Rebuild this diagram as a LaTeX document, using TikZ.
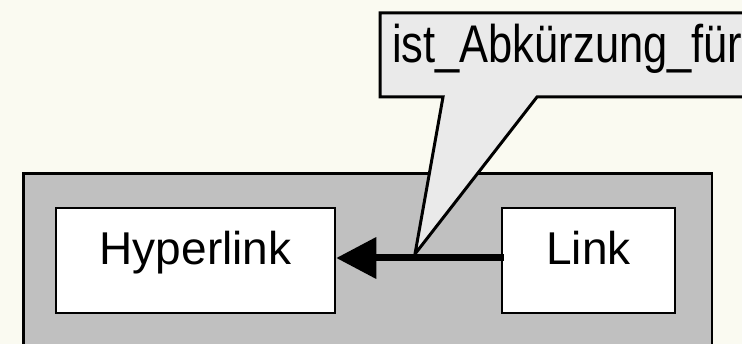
\documentclass[tikz,border=0pt]{standalone}
\usepackage{fontspec}
\setmainfont{Liberation Sans}
\usepackage{graphicx}
\usetikzlibrary{arrows.meta}
\definecolor{bgcream}{RGB}{250,250,241}
\definecolor{framegray}{RGB}{192,192,192}
\definecolor{calloutgray}{RGB}{234,234,234}
\tikzset{
  conceptbox/.style={draw=black, line width=2.5pt, fill=white, inner sep=0pt,
    text height=20pt, text depth=11pt,
    font=\fontsize{46}{54}\selectfont},
  framebox/.style={draw=black, line width=2.5pt, fill=framegray},
  calloutshape/.style={draw=black, line width=3pt, fill=calloutgray, line join=miter},
  relarrow/.style={line width=7pt, -{Triangle[length=40pt,width=40pt]}},
}
\begin{document}
\begin{tikzpicture}[x=1pt,y=-1pt]
\useasboundingbox[fill=bgcream] (0,0) rectangle (742,344);
% frame
\draw[framebox] (23.5,173.5) rectangle (712,370);
% concept nodes
\node[conceptbox, minimum width=279pt, minimum height=105pt] (hyper) at (195.5,260.5) {Hyperlink};
\node[conceptbox, minimum width=173pt, minimum height=105pt] (link) at (588.5,260.5) {Link};
% relation arrow
\draw[relarrow] ([xshift=3pt]link.west |- 0,258) -- (hyper.east |- 0,258);
\coordinate (tip) at (415,254);
% callout
\draw[calloutshape] (380,13) -- (770,13) -- (770,97) -- (537,97) -- (tip) -- (443,97) -- (380,97) -- cycle;
\node[anchor=base west, inner sep=0pt] (label) at (392,63)
  {\scalebox{0.82}[1]{\fontsize{53}{60}\selectfont ist\_Abkürzung\_für}};
\end{tikzpicture}
\end{document}
